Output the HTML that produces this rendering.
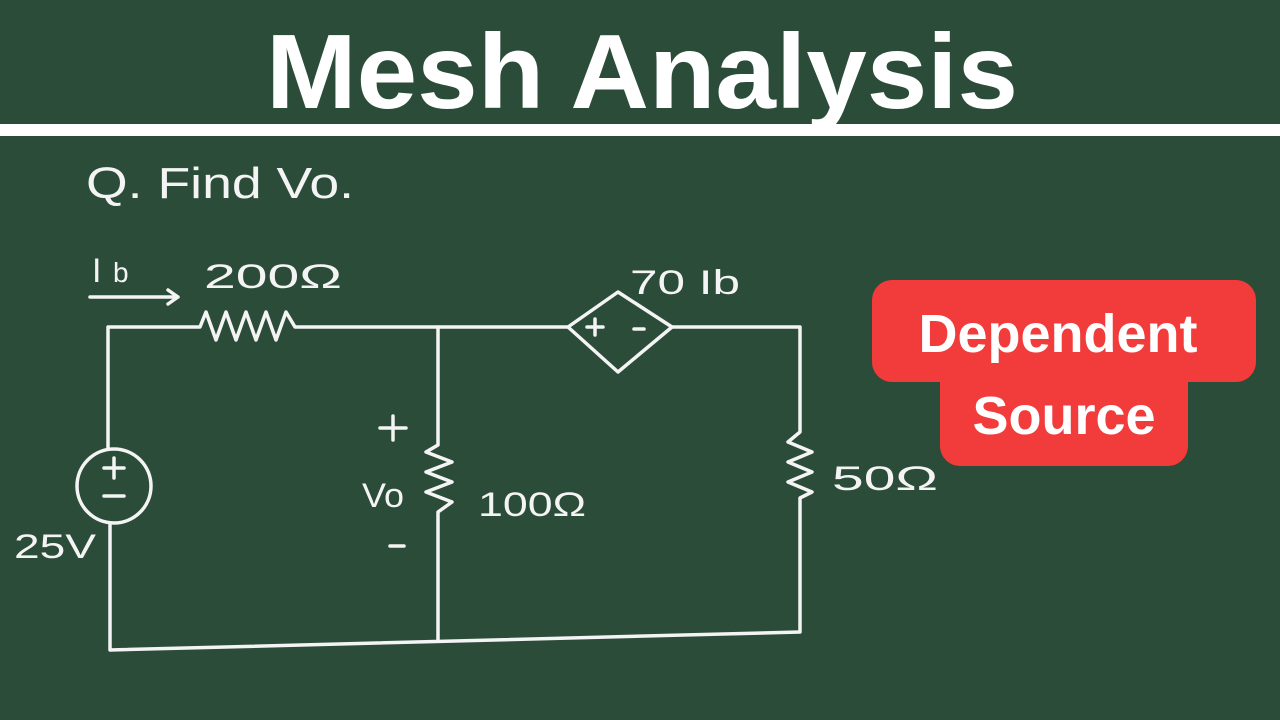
<!DOCTYPE html>
<html><head><style>
html,body{margin:0;padding:0;background:#2c4c3a;}
svg{display:block}
</style></head><body>
<svg width="1280" height="720" viewBox="0 0 1280 720" xmlns="http://www.w3.org/2000/svg">
<rect width="1280" height="720" fill="#2c4c3a"/>
<text x="642" y="108" text-anchor="middle" font-family="Liberation Sans, sans-serif" font-weight="bold" font-size="106" fill="#fff" textLength="752" lengthAdjust="spacingAndGlyphs">Mesh Analysis</text>
<rect x="0" y="124" width="1280" height="12" fill="#fff"/>
<text x="86" y="198" font-family="Liberation Sans, sans-serif" font-size="44" fill="#f4f4f4" textLength="268" lengthAdjust="spacingAndGlyphs">Q. Find Vo.</text>
<g stroke="#f4f4f4" stroke-width="3.5" fill="none" stroke-linecap="round" stroke-linejoin="round">
<path d="M108 449 L108 327 L200 327 L206 312 L216 340 L226 312 L236 340 L246 312 L256 340 L266 312 L276 340 L286 312 L295 327 L568 327"/>
<path d="M568 327 L618 292 L672 327 L618 372 Z"/>
<path d="M672 327 L800 327 L800 432 L788 442 L812 452 L788 462 L812 472 L788 482 L812 492 L800 498 L800 632 L110 650 L110 523"/>
<path d="M438 327 L438 445 L426 452 L452 462 L426 472 L452 482 L426 492 L452 502 L438 512 L438 640"/>
<circle cx="114" cy="486" r="37"/>
<path d="M104 468 L124 468 M114 458 L114 478 M104 496 L124 496"/>
<path d="M90 297 L178 297 M168 290 L178 297 L168 304"/>
<path d="M380 428 L406 428 M393 416 L393 440 M390 546 L404 546"/>
<path d="M587 327 L603 327 M595 319 L595 335 M634 329 L644 329"/>
</g>
<g font-family="Liberation Sans, sans-serif" fill="#f4f4f4" font-size="34">
<text x="92" y="282">I</text><text x="113" y="282" font-size="28">b</text>
<text x="204" y="288" textLength="138" lengthAdjust="spacingAndGlyphs">200Ω</text>
<text x="630" y="294" textLength="110" lengthAdjust="spacingAndGlyphs">70 Ib</text>
<text x="14" y="558" textLength="82" lengthAdjust="spacingAndGlyphs">25V</text>
<text x="362" y="507" textLength="42" lengthAdjust="spacingAndGlyphs">Vo</text>
<text x="478" y="516" textLength="108" lengthAdjust="spacingAndGlyphs">100Ω</text>
<text x="832" y="490" textLength="106" lengthAdjust="spacingAndGlyphs">50Ω</text>
</g>
<rect x="872" y="280" width="384" height="102" rx="20" fill="#f23b3b"/>
<rect x="940" y="362" width="248" height="104" rx="20" fill="#f23b3b"/>
<g font-family="Liberation Sans, sans-serif" font-weight="bold" fill="#fff" font-size="54" text-anchor="middle">
<text x="1058" y="352">Dependent</text>
<text x="1064" y="434">Source</text>
</g>
</svg>
</body></html>
